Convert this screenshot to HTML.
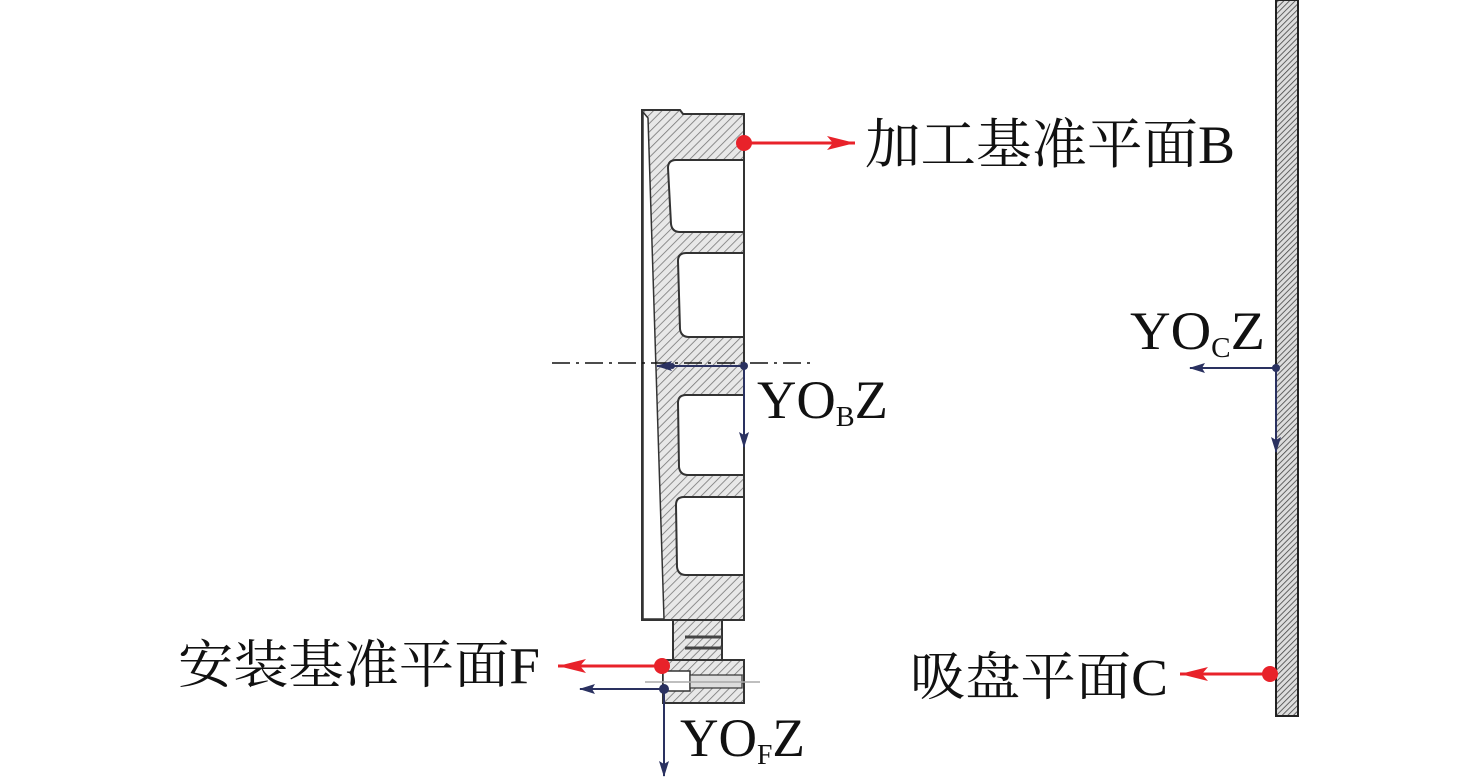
<!DOCTYPE html>
<html><head><meta charset="utf-8"><style>
html,body{margin:0;padding:0;background:#fff;}
svg{display:block}
text{font-family:"Liberation Serif","Noto Serif CJK SC",serif;fill:#111}
</style></head><body>
<svg width="1476" height="782" viewBox="0 0 1476 782" xmlns="http://www.w3.org/2000/svg">
<defs>
<pattern id="h" width="6" height="6" patternUnits="userSpaceOnUse" patternTransform="rotate(45)">
<rect width="6" height="6" fill="#e8e8e8"/><line x1="0" y1="0" x2="0" y2="6" stroke="#777" stroke-width="1.6"/></pattern>
<pattern id="h2" width="4" height="4" patternUnits="userSpaceOnUse" patternTransform="rotate(45)">
<rect width="4" height="4" fill="#ddd"/><line x1="0" y1="0" x2="0" y2="4" stroke="#444" stroke-width="1.6"/></pattern>
<marker id="ar2" markerWidth="30" markerHeight="14" refX="28" refY="7" orient="auto" markerUnits="userSpaceOnUse"><path d="M0,0 L28,7 L0,14 L6,7z" fill="#e8222a"/></marker>
<marker id="ab" markerWidth="16" markerHeight="10" refX="15" refY="5" orient="auto" markerUnits="userSpaceOnUse"><path d="M0,0 L16,5 L0,10 L3,5z" fill="#2a3160"/></marker>
</defs>
<!-- main part -->
<path d="M642,110 L680,110 L683,114 L744,114 L744,620 L642,620 Z" fill="url(#h)" stroke="#333" stroke-width="2"/>
<path d="M643,112 L648,118 L664,619 L643,619 Z" fill="#fff" stroke="#333" stroke-width="1.5"/>
<g fill="#fff" stroke="#333" stroke-width="2">
<path d="M744,160 L676,160 Q668,160 668,168 L671,224 Q672,232 680,232 L744,232"/>
<path d="M744,253 L686,253 Q678,253 678,261 L680,329 Q681,337 689,337 L744,337"/>
<path d="M744,395 L686,395 Q678,395 678,403 L679,467 Q680,475 688,475 L744,475"/>
<path d="M744,497 L684,497 Q676,497 676,505 L677,567 Q678,575 686,575 L744,575"/>
</g>
<line x1="744" y1="114" x2="744" y2="620" stroke="#333" stroke-width="2"/>
<!-- bottom neck -->
<rect x="673" y="620" width="49" height="40" fill="url(#h)" stroke="#333" stroke-width="2"/>
<line x1="685" y1="637" x2="722" y2="637" stroke="#444" stroke-width="3"/>
<line x1="685" y1="648" x2="722" y2="648" stroke="#444" stroke-width="3"/>
<rect x="663" y="660" width="81" height="43" fill="url(#h)" stroke="#333" stroke-width="2"/>
<rect x="663" y="671" width="27" height="20" fill="#fff" stroke="#333" stroke-width="1.5"/>
<rect x="690" y="675" width="52" height="13" fill="#ddd" stroke="#333" stroke-width="1.2"/>
<line x1="645" y1="682" x2="760" y2="682" stroke="#aaa" stroke-width="1.5"/>
<!-- wall -->
<rect x="1276" y="0" width="22" height="716" fill="url(#h2)" stroke="#222" stroke-width="2"/>
<!-- center line -->
<line x1="552" y1="363" x2="812" y2="363" stroke="#111" stroke-width="1.5" stroke-dasharray="18,6,3,6"/>
<!-- coordinate frames -->
<g stroke="#2a3160" stroke-width="2" fill="none">
<line x1="744" y1="366" x2="657" y2="366" marker-end="url(#ab)"/>
<line x1="744" y1="366" x2="744" y2="447" marker-end="url(#ab)"/>
<line x1="1276" y1="368" x2="1190" y2="368" marker-end="url(#ab)"/>
<line x1="1276" y1="368" x2="1276" y2="452" marker-end="url(#ab)"/>
<line x1="664" y1="689" x2="580" y2="689" marker-end="url(#ab)"/>
<line x1="664" y1="689" x2="664" y2="776" marker-end="url(#ab)"/>
</g>
<circle cx="744" cy="366" r="4" fill="#2a3160"/><circle cx="672" cy="366" r="3" fill="#2a3160"/>
<circle cx="1276" cy="368" r="4" fill="#2a3160"/>
<circle cx="664" cy="689" r="5" fill="#2a3160"/>
<!-- red arrows -->
<g stroke="#e8222a" stroke-width="3">
<line x1="744" y1="143" x2="855" y2="143" marker-end="url(#ar2)"/>
<line x1="662" y1="666" x2="558" y2="666" marker-end="url(#ar2)"/>
<line x1="1270" y1="674" x2="1180" y2="674" marker-end="url(#ar2)"/>
</g>
<circle cx="744" cy="143" r="8" fill="#e8222a"/>
<circle cx="662" cy="666" r="8" fill="#e8222a"/>
<circle cx="1270" cy="674" r="8" fill="#e8222a"/>
<!-- labels -->
<text x="865" y="163" font-size="54" textLength="370" lengthAdjust="spacingAndGlyphs">加工基准平面B</text>
<text x="178" y="683" font-size="52" textLength="362" lengthAdjust="spacingAndGlyphs">安装基准平面F</text>
<text x="910" y="695" font-size="52" textLength="258" lengthAdjust="spacingAndGlyphs">吸盘平面C</text>
<text x="757" y="418" font-size="54" textLength="131" lengthAdjust="spacingAndGlyphs">YO<tspan font-size="28" dy="8">B</tspan><tspan dy="-8">Z</tspan></text>
<text x="1130" y="349" font-size="54" textLength="135" lengthAdjust="spacingAndGlyphs">YO<tspan font-size="28" dy="8">C</tspan><tspan dy="-8">Z</tspan></text>
<text x="680" y="756" font-size="54" textLength="125" lengthAdjust="spacingAndGlyphs">YO<tspan font-size="28" dy="8">F</tspan><tspan dy="-8">Z</tspan></text>
</svg>
</body></html>
